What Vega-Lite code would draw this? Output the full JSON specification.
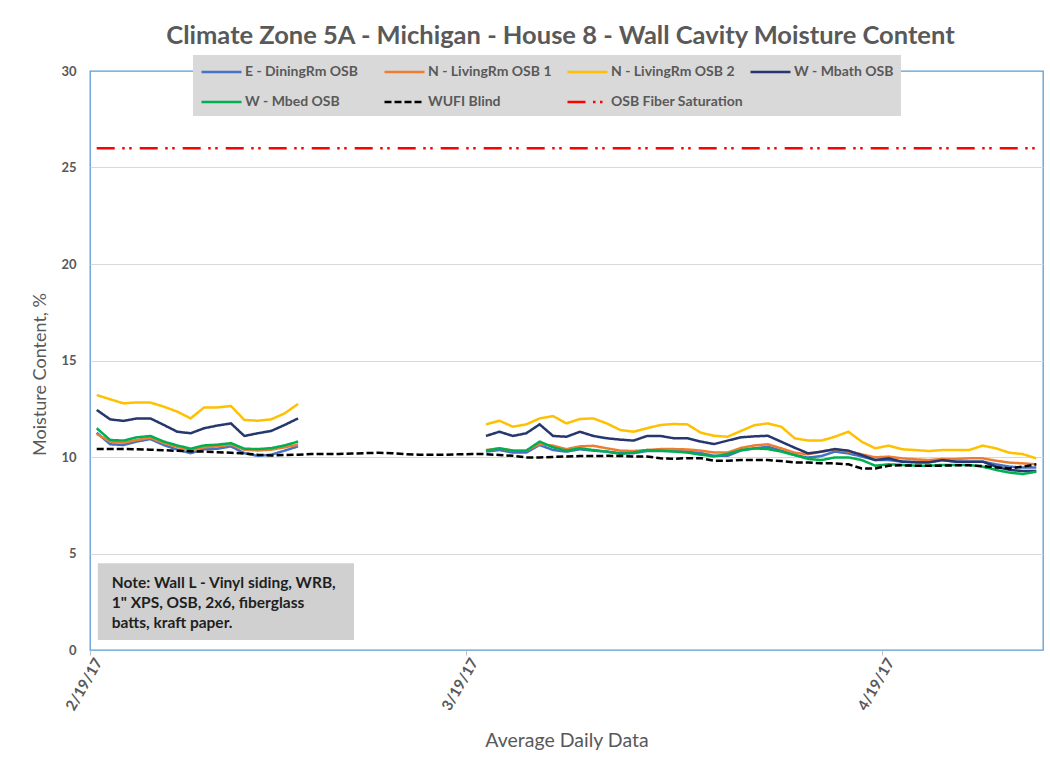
{
  "$schema": "https://vega.github.io/schema/vega-lite/v6.json",
  "width": 953,
  "height": 579,
  "autosize": {"type": "none"},
  "padding": {"left": 90, "top": 71, "right": 7, "bottom": 120},
  "background": "white",
  "title": {
    "text": "Climate Zone 5A - Michigan - House 8 - Wall Cavity Moisture Content",
    "font": "Lato", "fontSize": 25.5, "fontWeight": "bold", "color": "#595959",
    "anchor": "middle", "frame": "group", "offset": 6, "dx": -6
  },
  "config": {
    "view": {"stroke": "#5B9BD5", "strokeWidth": 1.3},
    "font": "Lato"
  },
  "datasets": {
    "names": [
      {"k": "E", "series": "E - DiningRm OSB"},
      {"k": "N1", "series": "N - LivingRm OSB 1"},
      {"k": "N2", "series": "N - LivingRm OSB 2"},
      {"k": "Wb", "series": "W - Mbath OSB"},
      {"k": "Wm", "series": "W - Mbed OSB"},
      {"k": "WUFI", "series": "WUFI Blind"},
      {"k": "Sat", "series": "OSB Fiber Saturation"}
    ],
    "daily": [
      {"date": "2017-02-19", "E": 11.26, "N1": 11.19, "N2": 13.21, "Wb": 12.44, "Wm": 11.49, "WUFI": 10.42, "Sat": 26},
      {"date": "2017-02-20", "E": 10.66, "N1": 10.8, "N2": 12.99, "Wb": 11.95, "Wm": 10.88, "WUFI": 10.42, "Sat": 26},
      {"date": "2017-02-21", "E": 10.62, "N1": 10.74, "N2": 12.78, "Wb": 11.87, "Wm": 10.85, "WUFI": 10.42, "Sat": 26},
      {"date": "2017-02-22", "E": 10.8, "N1": 10.88, "N2": 12.83, "Wb": 12.0, "Wm": 11.02, "WUFI": 10.4, "Sat": 26},
      {"date": "2017-02-23", "E": 10.93, "N1": 11.0, "N2": 12.82, "Wb": 12.0, "Wm": 11.09, "WUFI": 10.38, "Sat": 26},
      {"date": "2017-02-24", "E": 10.62, "N1": 10.72, "N2": 12.61, "Wb": 11.66, "Wm": 10.8, "WUFI": 10.35, "Sat": 26},
      {"date": "2017-02-25", "E": 10.38, "N1": 10.52, "N2": 12.35, "Wb": 11.31, "Wm": 10.6, "WUFI": 10.32, "Sat": 26},
      {"date": "2017-02-26", "E": 10.2, "N1": 10.34, "N2": 12.0, "Wb": 11.23, "Wm": 10.43, "WUFI": 10.3, "Sat": 26},
      {"date": "2017-02-27", "E": 10.4, "N1": 10.5, "N2": 12.57, "Wb": 11.49, "Wm": 10.6, "WUFI": 10.28, "Sat": 26},
      {"date": "2017-02-28", "E": 10.43, "N1": 10.55, "N2": 12.57, "Wb": 11.63, "Wm": 10.64, "WUFI": 10.25, "Sat": 26},
      {"date": "2017-03-01", "E": 10.55, "N1": 10.64, "N2": 12.64, "Wb": 11.74, "Wm": 10.72, "WUFI": 10.22, "Sat": 26},
      {"date": "2017-03-02", "E": 10.2, "N1": 10.38, "N2": 11.92, "Wb": 11.09, "Wm": 10.43, "WUFI": 10.18, "Sat": 26},
      {"date": "2017-03-03", "E": 10.06, "N1": 10.34, "N2": 11.88, "Wb": 11.23, "Wm": 10.41, "WUFI": 10.12, "Sat": 26},
      {"date": "2017-03-04", "E": 10.12, "N1": 10.38, "N2": 11.95, "Wb": 11.35, "Wm": 10.46, "WUFI": 10.08, "Sat": 26},
      {"date": "2017-03-05", "E": 10.33, "N1": 10.5, "N2": 12.26, "Wb": 11.66, "Wm": 10.6, "WUFI": 10.1, "Sat": 26},
      {"date": "2017-03-06", "E": 10.55, "N1": 10.64, "N2": 12.75, "Wb": 12.0, "Wm": 10.8, "WUFI": 10.12, "Sat": 26},
      {"date": "2017-03-07", "E": null, "N1": null, "N2": null, "Wb": null, "Wm": null, "WUFI": 10.15, "Sat": 26},
      {"date": "2017-03-08", "E": null, "N1": null, "N2": null, "Wb": null, "Wm": null, "WUFI": 10.15, "Sat": 26},
      {"date": "2017-03-09", "E": null, "N1": null, "N2": null, "Wb": null, "Wm": null, "WUFI": 10.16, "Sat": 26},
      {"date": "2017-03-10", "E": null, "N1": null, "N2": null, "Wb": null, "Wm": null, "WUFI": 10.18, "Sat": 26},
      {"date": "2017-03-11", "E": null, "N1": null, "N2": null, "Wb": null, "Wm": null, "WUFI": 10.2, "Sat": 26},
      {"date": "2017-03-12", "E": null, "N1": null, "N2": null, "Wb": null, "Wm": null, "WUFI": 10.22, "Sat": 26},
      {"date": "2017-03-13", "E": null, "N1": null, "N2": null, "Wb": null, "Wm": null, "WUFI": 10.2, "Sat": 26},
      {"date": "2017-03-14", "E": null, "N1": null, "N2": null, "Wb": null, "Wm": null, "WUFI": 10.15, "Sat": 26},
      {"date": "2017-03-15", "E": null, "N1": null, "N2": null, "Wb": null, "Wm": null, "WUFI": 10.12, "Sat": 26},
      {"date": "2017-03-16", "E": null, "N1": null, "N2": null, "Wb": null, "Wm": null, "WUFI": 10.12, "Sat": 26},
      {"date": "2017-03-17", "E": null, "N1": null, "N2": null, "Wb": null, "Wm": null, "WUFI": 10.12, "Sat": 26},
      {"date": "2017-03-18", "E": null, "N1": null, "N2": null, "Wb": null, "Wm": null, "WUFI": 10.14, "Sat": 26},
      {"date": "2017-03-19", "E": null, "N1": null, "N2": null, "Wb": null, "Wm": null, "WUFI": 10.15, "Sat": 26},
      {"date": "2017-03-20", "E": 10.28, "N1": 10.36, "N2": 11.69, "Wb": 11.09, "Wm": 10.33, "WUFI": 10.15, "Sat": 26},
      {"date": "2017-03-21", "E": 10.36, "N1": 10.45, "N2": 11.88, "Wb": 11.31, "Wm": 10.45, "WUFI": 10.1, "Sat": 26},
      {"date": "2017-03-22", "E": 10.23, "N1": 10.33, "N2": 11.57, "Wb": 11.09, "Wm": 10.33, "WUFI": 10.06, "Sat": 26},
      {"date": "2017-03-23", "E": 10.23, "N1": 10.33, "N2": 11.69, "Wb": 11.23, "Wm": 10.33, "WUFI": 9.98, "Sat": 26},
      {"date": "2017-03-24", "E": 10.62, "N1": 10.67, "N2": 12.0, "Wb": 11.69, "Wm": 10.8, "WUFI": 9.98, "Sat": 26},
      {"date": "2017-03-25", "E": 10.36, "N1": 10.59, "N2": 12.12, "Wb": 11.09, "Wm": 10.5, "WUFI": 10.0, "Sat": 26},
      {"date": "2017-03-26", "E": 10.28, "N1": 10.41, "N2": 11.74, "Wb": 11.05, "Wm": 10.33, "WUFI": 10.03, "Sat": 26},
      {"date": "2017-03-27", "E": 10.4, "N1": 10.55, "N2": 11.97, "Wb": 11.31, "Wm": 10.45, "WUFI": 10.05, "Sat": 26},
      {"date": "2017-03-28", "E": 10.33, "N1": 10.58, "N2": 12.0, "Wb": 11.09, "Wm": 10.36, "WUFI": 10.05, "Sat": 26},
      {"date": "2017-03-29", "E": 10.28, "N1": 10.45, "N2": 11.74, "Wb": 10.97, "Wm": 10.28, "WUFI": 10.06, "Sat": 26},
      {"date": "2017-03-30", "E": 10.2, "N1": 10.33, "N2": 11.4, "Wb": 10.9, "Wm": 10.16, "WUFI": 10.05, "Sat": 26},
      {"date": "2017-03-31", "E": 10.2, "N1": 10.31, "N2": 11.31, "Wb": 10.85, "Wm": 10.23, "WUFI": 10.03, "Sat": 26},
      {"date": "2017-04-01", "E": 10.31, "N1": 10.36, "N2": 11.49, "Wb": 11.09, "Wm": 10.36, "WUFI": 10.03, "Sat": 26},
      {"date": "2017-04-02", "E": 10.31, "N1": 10.41, "N2": 11.66, "Wb": 11.09, "Wm": 10.33, "WUFI": 9.93, "Sat": 26},
      {"date": "2017-04-03", "E": 10.31, "N1": 10.41, "N2": 11.71, "Wb": 10.97, "Wm": 10.28, "WUFI": 9.91, "Sat": 26},
      {"date": "2017-04-04", "E": 10.28, "N1": 10.39, "N2": 11.69, "Wb": 10.97, "Wm": 10.23, "WUFI": 9.94, "Sat": 26},
      {"date": "2017-04-05", "E": 10.2, "N1": 10.33, "N2": 11.26, "Wb": 10.8, "Wm": 10.12, "WUFI": 9.94, "Sat": 26},
      {"date": "2017-04-06", "E": 10.06, "N1": 10.23, "N2": 11.1, "Wb": 10.67, "Wm": 10.03, "WUFI": 9.81, "Sat": 26},
      {"date": "2017-04-07", "E": 10.06, "N1": 10.23, "N2": 11.05, "Wb": 10.85, "Wm": 10.16, "WUFI": 9.81, "Sat": 26},
      {"date": "2017-04-08", "E": 10.34, "N1": 10.47, "N2": 11.35, "Wb": 11.02, "Wm": 10.36, "WUFI": 9.84, "Sat": 26},
      {"date": "2017-04-09", "E": 10.44, "N1": 10.6, "N2": 11.65, "Wb": 11.07, "Wm": 10.45, "WUFI": 9.85, "Sat": 26},
      {"date": "2017-04-10", "E": 10.53, "N1": 10.66, "N2": 11.74, "Wb": 11.1, "Wm": 10.41, "WUFI": 9.84, "Sat": 26},
      {"date": "2017-04-11", "E": 10.33, "N1": 10.45, "N2": 11.57, "Wb": 10.79, "Wm": 10.28, "WUFI": 9.79, "Sat": 26},
      {"date": "2017-04-12", "E": 10.1, "N1": 10.22, "N2": 10.97, "Wb": 10.48, "Wm": 10.1, "WUFI": 9.72, "Sat": 26},
      {"date": "2017-04-13", "E": 9.97, "N1": 10.14, "N2": 10.85, "Wb": 10.19, "Wm": 9.9, "WUFI": 9.71, "Sat": 26},
      {"date": "2017-04-14", "E": 10.05, "N1": 10.28, "N2": 10.85, "Wb": 10.28, "Wm": 9.84, "WUFI": 9.67, "Sat": 26},
      {"date": "2017-04-15", "E": 10.28, "N1": 10.4, "N2": 11.05, "Wb": 10.41, "Wm": 9.98, "WUFI": 9.67, "Sat": 26},
      {"date": "2017-04-16", "E": 10.19, "N1": 10.28, "N2": 11.31, "Wb": 10.33, "Wm": 9.98, "WUFI": 9.62, "Sat": 26},
      {"date": "2017-04-17", "E": 10.02, "N1": 10.14, "N2": 10.79, "Wb": 10.1, "Wm": 9.84, "WUFI": 9.41, "Sat": 26},
      {"date": "2017-04-18", "E": 9.84, "N1": 9.98, "N2": 10.45, "Wb": 9.84, "Wm": 9.55, "WUFI": 9.41, "Sat": 26},
      {"date": "2017-04-19", "E": 9.84, "N1": 10.02, "N2": 10.59, "Wb": 9.93, "Wm": 9.62, "WUFI": 9.55, "Sat": 26},
      {"date": "2017-04-20", "E": 9.76, "N1": 9.93, "N2": 10.4, "Wb": 9.76, "Wm": 9.59, "WUFI": 9.57, "Sat": 26},
      {"date": "2017-04-21", "E": 9.76, "N1": 9.88, "N2": 10.36, "Wb": 9.72, "Wm": 9.55, "WUFI": 9.55, "Sat": 26},
      {"date": "2017-04-22", "E": 9.76, "N1": 9.84, "N2": 10.31, "Wb": 9.72, "Wm": 9.55, "WUFI": 9.55, "Sat": 26},
      {"date": "2017-04-23", "E": 9.84, "N1": 9.9, "N2": 10.36, "Wb": 9.84, "Wm": 9.59, "WUFI": 9.55, "Sat": 26},
      {"date": "2017-04-24", "E": 9.76, "N1": 9.9, "N2": 10.36, "Wb": 9.76, "Wm": 9.59, "WUFI": 9.57, "Sat": 26},
      {"date": "2017-04-25", "E": 9.76, "N1": 9.93, "N2": 10.36, "Wb": 9.76, "Wm": 9.59, "WUFI": 9.57, "Sat": 26},
      {"date": "2017-04-26", "E": 9.76, "N1": 9.93, "N2": 10.59, "Wb": 9.76, "Wm": 9.5, "WUFI": 9.53, "Sat": 26},
      {"date": "2017-04-27", "E": 9.62, "N1": 9.81, "N2": 10.45, "Wb": 9.5, "Wm": 9.33, "WUFI": 9.46, "Sat": 26},
      {"date": "2017-04-28", "E": 9.5, "N1": 9.71, "N2": 10.22, "Wb": 9.33, "Wm": 9.19, "WUFI": 9.41, "Sat": 26},
      {"date": "2017-04-29", "E": 9.45, "N1": 9.67, "N2": 10.15, "Wb": 9.27, "Wm": 9.12, "WUFI": 9.5, "Sat": 26},
      {"date": "2017-04-30", "E": 9.45, "N1": 9.62, "N2": 9.93, "Wb": 9.27, "Wm": 9.24, "WUFI": 9.62, "Sat": 26}
    ]
  },
  "layer": [
    {
      "data": {"name": "daily"},
      "transform": [
        {"fold": ["E", "N1", "N2", "Wb", "Wm", "WUFI", "Sat"], "as": ["k", "value"]},
        {"lookup": "k", "from": {"data": {"name": "names"}, "key": "k", "fields": ["series"]}}
      ],
      "mark": {"type": "line", "strokeWidth": 2.5, "invalid": "break-paths-filter-domains"},
      "encoding": {
        "x": {
          "field": "date", "type": "temporal", "timeUnit": "yearmonthdate", "bandPosition": 0.5,
          "title": "Average Daily Data",
          "scale": {"domain": [{"year": 2017, "month": 2, "date": 19}, {"year": 2017, "month": 5, "date": 1}]},
          "axis": {
            "values": [{"year": 2017, "month": 2, "date": 19}, {"year": 2017, "month": 3, "date": 19}, {"year": 2017, "month": 4, "date": 19}],
            "format": "%-m/%-d/%y", "formatType": "time",
            "labelAngle": -60, "labelAlign": "right", "labelBaseline": "middle", "labelOffset": 8,
            "labelFont": "Lato", "labelFontSize": 15, "labelFontWeight": "bold", "labelColor": "#595959",
            "labelPadding": 4, "domain": false, "grid": false,
            "ticks": true, "tickSize": 5, "tickColor": "#BFBFBF",
            "titleFont": "Lato", "titleFontSize": 19.5, "titleFontWeight": "normal", "titleColor": "#595959",
            "titlePadding": 19
          }
        },
        "y": {
          "field": "value", "type": "quantitative",
          "title": "Moisture Content, %",
          "scale": {"domain": [0, 30], "nice": false},
          "axis": {
            "values": [0, 5, 10, 15, 20, 25, 30],
            "grid": true,
            "gridColor": {"condition": {"test": "datum.value === 0 || datum.value === 30", "value": "rgba(0,0,0,0)"}, "value": "#D9D9D9"},
            "ticks": false, "domain": false, "labelPadding": 14,
            "labelFont": "Lato", "labelFontSize": 13, "labelFontWeight": "bold", "labelColor": "#595959",
            "titleFont": "Lato", "titleFontSize": 18, "titleFontWeight": "normal", "titleColor": "#595959",
            "titlePadding": 11, "titleY": 303
          }
        },
        "color": {
          "field": "series", "type": "nominal", "title": null,
          "scale": {
            "domain": ["E - DiningRm OSB", "N - LivingRm OSB 1", "N - LivingRm OSB 2", "W - Mbath OSB", "W - Mbed OSB", "WUFI Blind", "OSB Fiber Saturation"],
            "range": ["#4472C4", "#ED7D31", "#FFC000", "#26366E", "#00B050", "#000000", "#FF0000"]
          },
          "legend": {
            "orient": "none", "legendX": 103, "legendY": -16, "columns": 4, "direction": "horizontal", "gridAlign": "all",
            "columnPadding": 2, "rowPadding": 13, "padding": 7, "fillColor": "#D9D9D9",
            "symbolType": "M-1,0H3.706", "symbolSize": 289, "symbolStrokeWidth": 2.5,
            "labelOffset": 25, "labelFont": "Lato", "labelFontSize": 14, "labelFontWeight": "bold",
            "labelColor": "#595959", "labelLimit": 250
          }
        },
        "strokeDash": {
          "field": "series", "type": "nominal", "title": null,
          "scale": {
            "domain": ["E - DiningRm OSB", "N - LivingRm OSB 1", "N - LivingRm OSB 2", "W - Mbath OSB", "W - Mbed OSB", "WUFI Blind", "OSB Fiber Saturation"],
            "range": [[1, 0], [1, 0], [1, 0], [1, 0], [1, 0], [7, 3], [18, 7.5, 2.5, 4.5, 2.5, 8]]
          },
          "legend": {
            "orient": "none", "legendX": 103, "legendY": -16, "columns": 4, "direction": "horizontal", "gridAlign": "all",
            "columnPadding": 2, "rowPadding": 13, "padding": 7, "fillColor": "#D9D9D9",
            "symbolType": "M-1,0H3.706", "symbolSize": 289, "symbolStrokeWidth": 2.5,
            "labelOffset": 25, "labelFont": "Lato", "labelFontSize": 14, "labelFontWeight": "bold",
            "labelColor": "#595959", "labelLimit": 250
          }
        }
      }
    },
    {
      "data": {"values": [{}]},
      "mark": {"type": "rect", "color": "#D0D0D0"},
      "encoding": {
        "x": {"datum": {"year": 2017, "month": 2, "date": 19, "hours": 14}, "type": "temporal", "title": "Average Daily Data"},
        "x2": {"datum": {"year": 2017, "month": 3, "date": 10, "hours": 16}},
        "y": {"datum": 4.5, "type": "quantitative", "title": "Moisture Content, %"},
        "y2": {"datum": 0.52}
      }
    },
    {
      "data": {"values": [{"note": "Note: Wall L - Vinyl siding, WRB,\n1\" XPS, OSB, 2x6, fiberglass\nbatts, kraft paper."}]},
      "mark": {"type": "text", "align": "left", "baseline": "middle", "lineBreak": "\n", "lineHeight": 20, "font": "Lato", "fontSize": 15.5, "fontWeight": "bold", "color": "#1F1F1F"},
      "encoding": {
        "x": {"datum": {"year": 2017, "month": 2, "date": 20, "hours": 15}, "type": "temporal", "title": "Average Daily Data"},
        "y": {"datum": 3.47, "type": "quantitative", "title": "Moisture Content, %"},
        "text": {"field": "note", "type": "nominal"}
      }
    }
  ]
}
